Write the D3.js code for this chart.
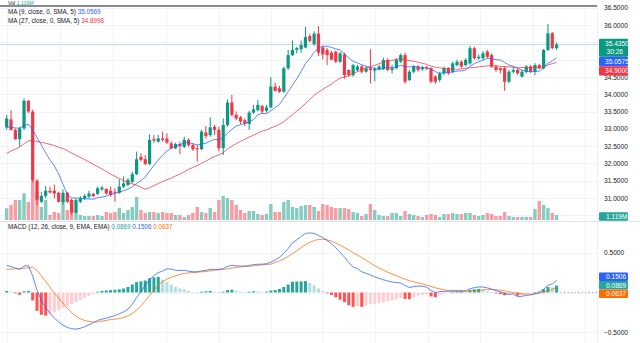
<!DOCTYPE html>
<html><head><meta charset="utf-8">
<script src="https://cdn.jsdelivr.net/npm/d3@7"></script>
<style>
html,body{margin:0;padding:0;background:#fff;overflow:hidden}
svg{display:block;font-family:"Liberation Sans",Arial,sans-serif}
</style>
</head><body>
<svg id="c" width="640" height="343"></svg>
<script>
// ---------- DATA ----------
const openP=[33.04,33.27,32.97,32.70,33.01,33.81,33.50,31.50,30.89,31.06,
31.21,31.21,31.15,30.89,31.15,30.94,30.58,30.89,30.99,31.04,
31.12,31.12,31.25,31.26,31.21,31.18,31.15,31.33,31.38,31.47,
31.69,32.19,32.12,31.98,32.70,32.63,32.72,32.72,32.58,32.44,
32.56,32.48,32.68,32.53,32.44,32.41,32.89,32.82,33.06,32.97,
32.44,33.11,33.76,33.40,33.33,33.25,33.14,33.47,33.54,33.66,
33.52,33.62,34.22,34.17,34.07,34.75,35.13,35.28,35.30,35.35,
35.68,35.45,35.75,35.35,35.28,35.20,35.23,34.94,35.15,34.70,
34.55,34.70,34.80,34.65,34.75,34.68,34.72,34.72,34.99,34.70,
34.75,34.94,35.13,34.41,34.65,34.80,34.72,34.77,34.75,34.51,
34.41,34.60,34.75,34.65,34.84,34.94,34.84,34.89,35.33,35.04,
35.04,35.23,35.13,34.80,34.75,34.75,34.36,34.65,34.70,34.51,
34.65,34.80,34.65,34.84,34.75,35.28,35.76,35.33];
const highP=[33.40,33.54,33.01,33.06,33.88,33.83,33.55,31.55,31.18,31.35,
31.33,31.39,31.18,31.25,31.18,30.99,30.99,31.06,31.12,31.21,
31.15,31.33,31.35,31.28,31.33,31.28,31.54,31.62,31.57,31.76,
32.34,32.29,32.24,32.84,32.82,32.82,32.92,32.87,32.63,32.60,
32.63,32.77,32.72,32.58,32.53,32.97,33.08,33.33,33.11,33.06,
33.30,33.85,33.98,33.50,33.37,33.30,33.52,33.69,33.83,33.69,
33.69,34.49,34.33,34.24,34.80,35.28,35.55,35.37,35.55,35.95,
35.75,35.82,35.97,35.40,35.33,35.25,35.26,35.22,35.20,34.72,
34.88,34.85,34.85,34.80,35.30,34.78,34.85,35.05,35.04,34.85,
35.04,35.18,35.20,34.70,34.84,34.84,34.82,34.82,34.78,34.55,
34.65,34.80,34.78,34.94,35.00,34.98,35.04,35.40,35.38,35.15,
35.25,35.28,35.18,34.84,34.78,34.80,34.70,34.78,34.74,34.70,
34.84,34.84,34.90,34.88,35.30,36.03,35.80,35.50];
const lowP=[32.97,32.95,32.68,32.48,32.97,33.45,31.45,30.80,30.85,30.99,
31.13,30.99,30.87,30.80,30.85,30.51,30.56,30.85,30.94,30.99,
31.02,31.09,31.21,31.09,31.04,30.89,31.12,31.28,31.35,31.42,
31.66,32.05,31.95,31.95,32.60,32.60,32.63,32.56,32.41,32.41,
32.27,32.44,32.48,32.36,32.05,32.39,32.72,32.77,32.82,32.36,
32.24,33.06,33.35,33.25,33.14,33.08,32.97,33.43,33.50,33.43,
33.47,33.59,34.07,34.04,34.04,34.70,35.10,35.18,35.20,35.33,
35.50,35.40,35.10,35.00,34.84,34.98,34.90,34.90,34.45,34.50,
34.50,34.65,34.60,34.62,34.31,34.38,34.70,34.70,34.66,34.60,
34.72,34.90,34.30,34.38,34.60,34.65,34.68,34.70,34.32,34.30,
34.35,34.55,34.56,34.60,34.80,34.76,34.80,34.85,35.00,35.00,
35.00,35.04,34.76,34.65,34.60,34.10,34.32,34.60,34.56,34.48,
34.60,34.62,34.55,34.72,34.72,35.25,35.30,35.28];
const closeP=[33.30,32.97,32.70,33.01,33.81,33.50,31.52,30.95,31.06,31.21,
31.16,31.13,30.89,31.15,30.89,30.58,30.94,30.99,31.06,31.13,
31.06,31.28,31.30,31.13,31.09,31.15,31.33,31.42,31.52,31.69,
32.12,32.10,31.98,32.68,32.66,32.72,32.68,32.60,32.44,32.56,
32.50,32.68,32.53,32.41,32.41,32.92,32.79,33.04,32.97,32.44,
33.11,33.76,33.40,33.30,33.21,33.14,33.47,33.56,33.69,33.50,
33.62,34.22,34.10,34.07,34.75,35.13,35.28,35.33,35.42,35.65,
35.54,35.75,35.20,35.15,35.13,35.00,34.94,35.18,34.55,34.55,
34.84,34.80,34.65,34.75,34.70,34.73,34.80,34.99,34.70,34.75,
34.99,35.13,34.36,34.65,34.80,34.70,34.77,34.75,34.36,34.36,
34.60,34.75,34.60,34.89,34.94,34.80,34.99,35.33,35.04,35.08,
35.18,35.08,34.80,34.70,34.70,34.36,34.65,34.70,34.60,34.65,
34.80,34.65,34.84,34.75,35.28,35.76,35.33,35.435];
// closes before the visible window (estimated from the MA lines' start)
const priorCloses=[31.1,31.3,31.2,31.35,31.25,31.3,31.6,31.8,31.9,32.0,32.1,32.2,32.3,
32.35,32.5,32.55,32.7,32.85,33.0,32.9,33.1,33.05,33.2,33.0,32.95,32.95];
// volume, millions
const volumeM=[2.62,3.36,4.47,4.47,5.97,4.03,8.95,6.26,2.91,4.47,
1.12,1.79,1.57,4.47,2.24,4.47,1.79,1.12,0.89,0.89,
0.89,1.12,0.89,1.79,1.57,1.79,2.68,1.57,2.24,2.91,
5.15,2.24,1.57,1.79,1.79,1.57,1.79,1.57,1.57,1.12,
1.12,0.67,1.12,1.57,2.91,1.79,1.57,2.68,1.79,4.47,
5.37,4.92,4.47,3.36,2.24,1.57,2.01,2.01,1.34,1.12,
1.34,3.58,1.79,1.79,4.03,4.47,2.91,2.68,3.13,3.36,
3.36,2.91,2.01,3.58,3.36,2.91,2.68,2.68,2.68,2.46,
1.79,1.57,0.89,1.34,3.58,2.24,1.12,0.89,0.89,1.57,
1.57,0.89,2.01,1.34,1.12,0.89,0.67,1.12,1.34,1.12,
0.67,1.34,1.34,1.57,1.34,1.34,1.57,1.57,1.12,0.89,
1.12,1.57,1.34,0.89,0.89,1.79,0.89,0.67,0.67,0.67,
0.67,0.67,2.46,4.25,3.36,2.68,1.57,1.119];
const macdLine=[0.339,0.327,0.306,0.289,0.331,0.339,0.209,0.03,-0.10,-0.19,
-0.26,-0.32,-0.37,-0.41,-0.44,-0.455,-0.46,-0.45,-0.43,-0.405,
-0.38,-0.35,-0.335,-0.322,-0.306,-0.29,-0.268,-0.243,-0.21,-0.147,
-0.063,0.01,0.092,0.155,0.214,0.25,0.268,0.298,0.293,0.28,
0.276,0.279,0.267,0.261,0.26,0.27,0.279,0.292,0.29,0.29,
0.30,0.327,0.341,0.334,0.332,0.332,0.34,0.35,0.355,0.356,
0.362,0.381,0.407,0.443,0.493,0.552,0.625,0.661,0.705,0.742,
0.748,0.743,0.716,0.69,0.652,0.615,0.56,0.505,0.445,0.376,
0.32,0.30,0.26,0.24,0.22,0.197,0.177,0.16,0.145,0.132,
0.125,0.118,0.088,0.062,0.074,0.081,0.079,0.067,0.025,-0.001,
0.011,0.014,0.015,0.022,0.023,0.023,0.023,0.047,0.061,0.07,
0.069,0.058,0.043,0.024,0.009,-0.014,-0.022,-0.02,-0.053,-0.047,
-0.036,-0.031,-0.017,0.002,0.04,0.091,0.107,0.1506];
const signalLine=[0.293,0.295,0.297,0.30,0.305,0.31,0.32,0.28,0.21,0.14,
0.065,-0.01,-0.07,-0.135,-0.2,-0.255,-0.296,-0.33,-0.352,-0.364,
-0.37,-0.37,-0.36,-0.35,-0.34,-0.335,-0.327,-0.314,-0.293,-0.264,
-0.222,-0.167,-0.105,-0.038,0.03,0.092,0.138,0.168,0.193,0.21,
0.226,0.239,0.247,0.251,0.255,0.26,0.264,0.272,0.28,0.285,
0.29,0.297,0.306,0.314,0.322,0.327,0.33,0.335,0.34,0.348,
0.352,0.356,0.377,0.398,0.423,0.452,0.49,0.523,0.565,0.599,
0.628,0.653,0.666,0.67,0.662,0.645,0.62,0.595,0.565,0.536,
0.50,0.47,0.44,0.405,0.37,0.337,0.307,0.28,0.255,0.232,
0.21,0.188,0.168,0.147,0.134,0.121,0.109,0.092,0.075,0.059,
0.046,0.034,0.025,0.017,0.013,0.008,0.013,0.017,0.021,0.025,
0.034,0.038,0.038,0.034,0.029,0.021,0.008,0.0,-0.013,-0.017,
-0.021,-0.021,-0.017,-0.008,0.0,0.021,0.042,0.0637];
const macdHist=[0.02,0.01,-0.01,-0.03,0.015,0.02,-0.10,-0.23,-0.28,-0.29,
-0.27,-0.245,-0.22,-0.195,-0.17,-0.145,-0.12,-0.095,-0.07,-0.045,
-0.02,0.01,0.02,0.025,0.03,0.035,0.04,0.05,0.07,0.10,
0.13,0.14,0.15,0.18,0.19,0.195,0.16,0.13,0.10,0.07,
0.05,0.04,0.02,0.01,0.005,0.01,0.015,0.02,0.01,0.005,
0.01,0.03,0.035,0.02,0.01,0.005,0.01,0.015,0.015,0.008,
0.01,0.025,0.03,0.045,0.07,0.10,0.135,0.138,0.14,0.143,
0.12,0.09,0.05,0.02,-0.01,-0.03,-0.06,-0.09,-0.12,-0.16,
-0.18,-0.17,-0.18,-0.165,-0.15,-0.14,-0.13,-0.12,-0.11,-0.10,
-0.085,-0.07,-0.08,-0.085,-0.06,-0.04,-0.03,-0.025,-0.05,-0.06,
-0.035,-0.02,-0.01,0.005,0.01,0.015,0.01,0.03,0.04,0.045,
0.035,0.02,0.005,-0.01,-0.02,-0.035,-0.03,-0.02,-0.04,-0.03,
-0.015,-0.01,0.0,0.01,0.04,0.07,0.065,0.0869];
// axis labels visible in the reference (35.0 and 35.5 are hidden behind the value boxes)
const priceTicks=[31,31.5,32,32.5,33,33.5,34,34.5,36,36.5];
const priceGrid=[30.5,31,31.5,32,32.5,33,33.5,34,34.5,35,35.5,36,36.5];
const macdTicks=[0.5,-0.5];
const gridBars=[1,13.3,25.5,37.7,50,62,73.8,86.1,98.3,110.3,122.5,134.6];
const lastPrice=35.435;
const priceLabels=[{t:"35.4350",sub:"30:26",bg:"#089981"},{t:"35.0575",bg:"#2962FF"},{t:"34.9000",bg:"#F23645"}];
const macdLabels=[{t:"0.1506",bg:"#2962FF"},{t:"0.0869",bg:"#26A69A"},{t:"0.0637",bg:"#FF6D00"}];

// ---------- SCALES ----------
const N=closeP.length;
const idx=d3.range(1,N+1);
const svg=d3.select('#c');
const x=d3.scaleLinear().domain([1,128]).range([6.7,556.6]);
const yP=d3.scaleLinear().domain([31,36]).range([198,25]);
const yV=d3.scaleLinear().domain([0,9.4]).range([220,178]);
const yM=d3.scaleLinear().domain([-0.5,0.5]).range([332.3,252.7]);
const UP='#089981',DN='#F23645',GRID='#F0F3FA',TXT='#131722';
const plotR=597;

// ---------- GRID ----------
const grid=svg.append('g');
grid.selectAll('.vg').data(gridBars).join('line')
  .attr('x1',d=>Math.round(x(d))+0.5).attr('x2',d=>Math.round(x(d))+0.5)
  .attr('y1',6).attr('y2',343).attr('stroke',GRID);
grid.selectAll('.hg').data(priceGrid).join('line')
  .attr('x1',0).attr('x2',plotR).attr('y1',d=>Math.round(yP(d))+0.5).attr('y2',d=>Math.round(yP(d))+0.5)
  .attr('stroke',GRID);
grid.selectAll('.mg').data([0.5,0,-0.5]).join('line')
  .attr('x1',0).attr('x2',plotR).attr('y1',d=>Math.round(yM(d))+0.5).attr('y2',d=>Math.round(yM(d))+0.5)
  .attr('stroke',GRID);
svg.append('line').attr('x1',0).attr('x2',640).attr('y1',221.5).attr('y2',221.5).attr('stroke','#E0E3EB');
svg.append('line').attr('x1',plotR+0.5).attr('x2',plotR+0.5).attr('y1',6).attr('y2',343).attr('stroke','#EEF0F4');

// current price line
svg.append('line').attr('x1',0).attr('x2',plotR).attr('y1',yP(lastPrice)).attr('y2',yP(lastPrice))
  .attr('stroke','#BFE0DB').attr('stroke-width',1);

// ---------- VOLUME ----------
const isUp=i=>closeP[i]>=openP[i];
svg.append('g').selectAll('rect').data(idx).join('rect')
  .attr('x',d=>x(d)-1.7).attr('width',3.4)
  .attr('y',d=>yV(volumeM[d-1])).attr('height',d=>yV(0)-yV(volumeM[d-1]))
  .attr('fill',d=>isUp(d-1)?'#84CCC0':'#F99BA2');

// ---------- CANDLES ----------
const cg=svg.append('g');
cg.selectAll('.wick').data(idx).join('rect')
  .attr('x',d=>x(d)-0.5).attr('width',1)
  .attr('y',d=>yP(highP[d-1])).attr('height',d=>yP(lowP[d-1])-yP(highP[d-1]))
  .attr('fill',d=>isUp(d-1)?UP:DN);
cg.selectAll('.body').data(idx).join('rect')
  .attr('x',d=>x(d)-1.6).attr('width',3.2)
  .attr('y',d=>yP(Math.max(openP[d-1],closeP[d-1])))
  .attr('height',d=>Math.max(1,Math.abs(yP(openP[d-1])-yP(closeP[d-1]))))
  .attr('fill',d=>isUp(d-1)?UP:DN);

// ---------- MOVING AVERAGES ----------
const allC=priorCloses.concat(closeP);
function sma(n){return idx.map(d=>{const j=d-1+priorCloses.length;return d3.mean(allC.slice(j-n+1,j+1));});}
const ma9=sma(9),ma27=sma(27);
const lineP=d3.line().x((v,i)=>x(i+1)).y(v=>yP(v));
svg.append('path').attr('d',lineP(ma27)).attr('fill','none').attr('stroke','#F23645').attr('stroke-width',0.9).attr('opacity',0.85);
svg.append('path').attr('d',lineP(ma9)).attr('fill','none').attr('stroke','#2962FF').attr('stroke-width',0.9).attr('opacity',0.85);

// ---------- MACD ----------
const mg=svg.append('g');
mg.selectAll('rect').data(idx).join('rect')
  .attr('x',d=>x(d)-1.5).attr('width',3)
  .attr('y',d=>Math.min(yM(0),yM(macdHist[d-1])))
  .attr('height',d=>Math.max(0.6,Math.abs(yM(macdHist[d-1])-yM(0))))
  .attr('fill',d=>{const h=macdHist[d-1],p=d>1?macdHist[d-2]:-Infinity;
    if(h>=0) return h>p?'#26A69A':'#B2DFDB';
    return h<p?'#FF5252':'#FFCDD2';});
const lineM=d3.line().x((v,i)=>x(i+1)).y(v=>yM(v));
svg.append('path').attr('d',lineM(signalLine)).attr('fill','none').attr('stroke','#FF6D00').attr('stroke-width',0.9).attr('opacity',0.85);
svg.append('path').attr('d',lineM(macdLine)).attr('fill','none').attr('stroke','#2962FF').attr('stroke-width',0.9).attr('opacity',0.85);
svg.append('line').attr('x1',x(128)+4).attr('x2',plotR).attr('y1',yM(0)).attr('y2',yM(0))
  .attr('stroke','#9598A1').attr('stroke-dasharray','1,2.5');

// ---------- AXES ----------
const axP=svg.append('g').attr('transform','translate(598,0)')
  .call(d3.axisRight(yP).tickValues(priceTicks).tickFormat(d3.format('.4f')).tickSize(0).tickPadding(6));
const axM=svg.append('g').attr('transform','translate(598,0)')
  .call(d3.axisRight(yM).tickValues(macdTicks).tickFormat(d3.format('.4f')).tickSize(0).tickPadding(6));
[axP,axM].forEach(a=>{a.select('.domain').remove();
  a.selectAll('text').attr('font-size',6.6).attr('fill',TXT).attr('font-family','"Liberation Sans",Arial,sans-serif');});

// price labels (stacked boxes)
const lb=svg.append('g');
lb.append('rect').attr('x',599).attr('y',38.8).attr('width',29).attr('height',18).attr('fill',priceLabels[0].bg).attr('rx',1);
lb.append('text').attr('x',605).attr('y',46.2).text(priceLabels[0].t);
lb.append('text').attr('x',606.5).attr('y',54.4).text(priceLabels[0].sub);
lb.append('rect').attr('x',599).attr('y',56.8).attr('width',29).attr('height',9.4).attr('fill',priceLabels[1].bg).attr('rx',1);
lb.append('text').attr('x',605).attr('y',63.9).text(priceLabels[1].t);
lb.append('rect').attr('x',599).attr('y',66.2).attr('width',29).attr('height',9.2).attr('fill',priceLabels[2].bg).attr('rx',1);
lb.append('text').attr('x',605).attr('y',73.2).text(priceLabels[2].t);
lb.append('rect').attr('x',599).attr('y',212.3).attr('width',29).attr('height',8.4).attr('fill','#26A69A').attr('rx',1);
lb.append('text').attr('x',606).attr('y',218.8).text('1.119M');
macdLabels.forEach((m,k)=>{
  lb.append('rect').attr('x',599).attr('y',272.6+k*8.5).attr('width',29).attr('height',8.5).attr('fill',m.bg).attr('rx',1);
  lb.append('text').attr('x',606).attr('y',279.2+k*8.5).text(m.t);
});
lb.selectAll('text').attr('fill','#fff').attr('font-size',6.6);

// ---------- LEGENDS ----------
function legend(y,parts,fs){
  const t=svg.append('text').attr('x',8).attr('y',y).attr('font-size',fs||6.3).attr('fill',TXT);
  parts.forEach(p=>t.append('tspan').attr('fill',p.c||TXT).text(p.t));
}
legend(4.9,[{t:'Vol  '},{t:'1.119M',c:'#26A69A'}],5.2);
legend(14,[{t:'MA (9, close, 0, SMA, 5)  '},{t:'35.0569',c:'#2962FF'}]);
legend(22.7,[{t:'MA (27, close, 0, SMA, 5)  '},{t:'34.8998',c:'#F23645'}]);
legend(229,[{t:'MACD (12, 26, close, 9, EMA, EMA)  '},{t:'0.0869',c:'#26A69A'},{t:'  '},{t:'0.1506',c:'#2962FF'},{t:'  '},{t:'0.0637',c:'#FF6D00'}]);

svg.append('line').attr('x1',0).attr('x2',plotR).attr('y1',6).attr('y2',6).attr('stroke','#131722').attr('stroke-width',1.2);
</script>
</body></html>
